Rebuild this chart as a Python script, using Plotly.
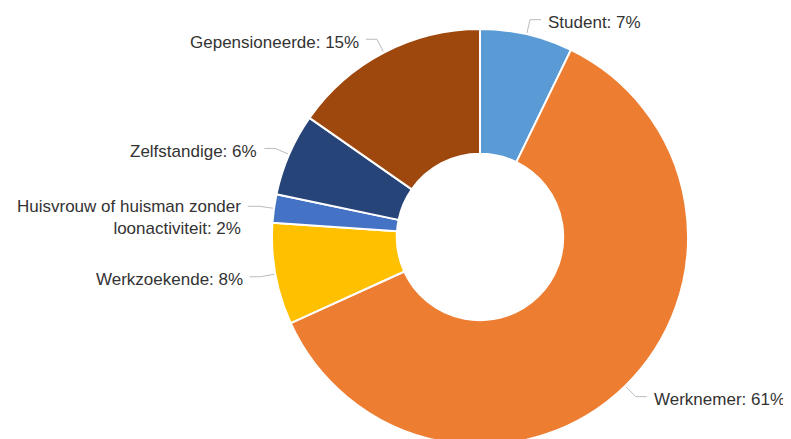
import math
import plotly.graph_objects as go

# ---- data ----
categories = ["Student", "Werknemer", "Werkzoekende",
              "Huisvrouw of huisman zonder<br>loonactiviteit",
              "Zelfstandige", "Gepensioneerde"]
shares = [7.2, 61.0, 7.9, 2.2, 6.4, 15.3]
colors = ["#5B9BD5", "#ED7D31", "#FFC000", "#4472C4", "#264478", "#9E480E"]

# ---- layout geometry (pixels, figure coordinates) ----
W, H = 791, 439
PAGE = 8              # default page margin around the plot div
R = 208.0
cx, cy = 480.0 - PAGE, 237.0 - PAGE
hole = 0.4

fig = go.Figure()
fig.add_trace(go.Pie(
    labels=categories, values=shares, sort=False, direction="clockwise",
    rotation=0, hole=hole, textinfo="none", hoverinfo="label+percent",
    marker=dict(colors=colors, line=dict(color="#FFFFFF", width=2)),
    domain=dict(x=[(cx - R) / W, (cx + R) / W],
                y=[(H - (cy + R)) / H, (H - (cy - R)) / H]),
    showlegend=False,
))

total = sum(shares)
cum = 0.0
annotations = []
for name, v in zip(categories, shares):
    mid = (cum + v / 2.0) / total * 2 * math.pi
    cum += v
    s, c = math.sin(mid), math.cos(mid)
    x0, y0 = cx + s * (R + 1), cy - c * (R + 1)
    x1, y1 = cx + s * (R + 15), cy - c * (R + 15)
    side = 1 if s >= 0 else -1
    x2 = x1 + side * 11
    fig.add_trace(go.Scatter(
        x=[x0, x1, x2], y=[y0, y1, y1], mode="lines",
        line=dict(color="#BBBBBB", width=1), hoverinfo="skip",
        showlegend=False, xaxis="x", yaxis="y"))
    pct = round(v / total * 100)
    multiline = "<br>" in name
    annotations.append(dict(
        x=x2 + side * 5, y=y1, xref="x", yref="y",
        text=f"{name}: {pct}%", showarrow=False,
        xanchor="left" if side > 0 else "right",
        yanchor="top" if multiline else "middle",
        yshift=11 if multiline else -3,
        align="left" if side > 0 else "right",
        font=dict(family="Liberation Sans, Arial, sans-serif", size=17, color="#333333"),
    ))

fig.update_layout(
    width=W, height=H, margin=dict(l=0, r=0, t=0, b=0),
    paper_bgcolor="#FFFFFF", plot_bgcolor="rgba(0,0,0,0)",
    xaxis=dict(range=[0, W], visible=False, fixedrange=True),
    yaxis=dict(range=[H, 0], visible=False, fixedrange=True),
    annotations=annotations,
)
fig.write_html("out.html")
